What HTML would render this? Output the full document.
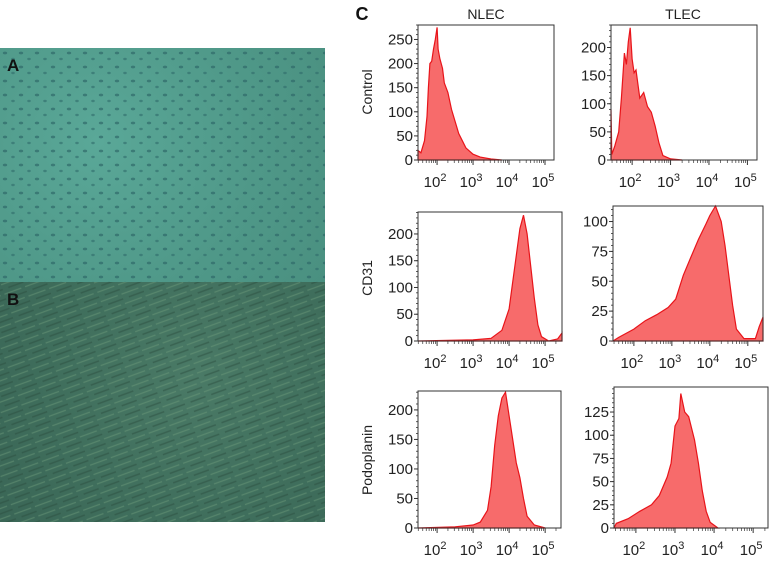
<!DOCTYPE html>
<html><head><meta charset="utf-8"><style>
body{margin:0;background:#fff;width:769px;height:567px;overflow:hidden;position:relative;font-family:"Liberation Sans",sans-serif}
.img{position:absolute;left:0;width:325px}
</style></head><body>
<div class="img" style="top:48px;height:234px;background:radial-gradient(circle at 30% 40%,#5aa898 0,#4f9888 60%,#4a9080 100%)">
<svg width="325" height="234" style="position:absolute;left:0;top:0">
<defs><pattern id="pa" width="16" height="14" patternUnits="userSpaceOnUse"><ellipse cx="5" cy="5" rx="2.2" ry="1.4" fill="#2f6a6a" opacity=".7"/><ellipse cx="13" cy="11" rx="1.8" ry="1.2" fill="#2f6a6a" opacity=".6"/></pattern></defs>
<rect width="325" height="234" fill="url(#pa)"/></svg>
<div style="position:absolute;left:7px;top:8px;font-weight:bold;font-size:17px;color:#111">A</div></div>
<div class="img" style="top:282px;height:240px;background:radial-gradient(circle at 60% 40%,#4a7a66 0,#3f6e5c 60%,#3a6656 100%)">
<svg width="325" height="240" style="position:absolute;left:0;top:0">
<defs><pattern id="pb" width="22" height="10" patternUnits="userSpaceOnUse" patternTransform="rotate(-20)"><line x1="0" y1="3" x2="18" y2="3" stroke="#6c9a7a" stroke-width="1.2" opacity=".5"/><line x1="6" y1="8" x2="22" y2="8" stroke="#2c4e40" stroke-width="1.5" opacity=".5"/></pattern></defs>
<rect width="325" height="240" fill="url(#pb)"/></svg>
<div style="position:absolute;left:7px;top:8px;font-weight:bold;font-size:17px;color:#111">B</div></div>
<svg id="c" width="769" height="567" style="position:absolute;left:0;top:0"></svg>
<script>
// data: [log10 intensity, count]
const nlecControl=[[1.47,20],[1.55,15],[1.65,40],[1.72,90],[1.76,150],[1.8,200],[1.85,205],[1.9,230],[1.95,250],[2.0,275],[2.03,230],[2.08,210],[2.15,190],[2.2,160],[2.3,140],[2.4,105],[2.5,80],[2.6,55],[2.7,40],[2.8,25],[3.0,12],[3.2,6],[3.5,2],[3.8,0]];
const tlecControl=[[1.45,90],[1.47,10],[1.55,25],[1.65,50],[1.72,110],[1.76,150],[1.8,190],[1.85,170],[1.9,210],[1.95,235],[2.0,180],[2.05,155],[2.1,160],[2.2,110],[2.3,120],[2.4,95],[2.5,85],[2.6,60],[2.7,30],[2.8,8],[3.0,2],[3.3,0]];
const nlecCD31=[[1.47,0],[3.0,2],[3.5,5],[3.8,20],[4.0,60],[4.1,110],[4.2,160],[4.3,210],[4.4,235],[4.5,200],[4.6,140],[4.7,80],[4.8,30],[4.9,8],[5.1,0],[5.35,4],[5.47,15]];
const tlecCD31=[[1.45,0],[1.6,3],[2,10],[2.3,17],[2.6,22],[2.9,28],[3.1,35],[3.3,55],[3.5,70],[3.7,85],[3.9,98],[4.0,105],[4.15,113],[4.3,100],[4.4,80],[4.5,55],[4.6,30],[4.7,10],[4.9,2],[5.2,2],[5.3,12],[5.4,20]];
const nlecPodo=[[1.47,0],[2.5,2],[3,5],[3.2,10],[3.4,30],[3.5,70],[3.6,140],[3.7,190],[3.8,220],[3.9,230],[4.0,190],[4.1,150],[4.2,110],[4.3,85],[4.4,50],[4.5,20],[4.7,5],[5.0,0]];
const tlecPodo=[[1.44,0],[1.5,5],[1.8,10],[2.1,18],[2.4,25],[2.6,35],[2.8,55],[2.9,70],[3.0,110],[3.1,118],[3.15,145],[3.25,125],[3.35,120],[3.5,95],[3.6,70],[3.7,40],[3.8,18],[3.9,6],[4.1,0]];
const ctrlTicksN=[0,50,100,150,200,250], ctrlTicksT=[0,50,100,150,200];
const cd31TicksN=[0,50,100,150,200], cd31TicksT=[0,25,50,75,100];
const podoTicksN=[0,50,100,150,200], podoTicksT=[0,25,50,75,100,125];
const decades=[2,3,4,5];
const NS='http://www.w3.org/2000/svg', svg=document.getElementById('c');
function el(t,a,p){const e=document.createElementNS(NS,t);for(const k in a)e.setAttribute(k,a[k]);(p||svg).appendChild(e);return e;}
function panel(name,x0,x1,lmin,lmax,y0,y1,ymax,data,yt){
  const g=el('g',{});
  
  
  const sx=l=>x0+(l-lmin)/(lmax-lmin)*(x1-x0), sy=v=>y1-v/ymax*(y1-y0);
  let d='M'+sx(data[0][0])+','+y1;
  data.forEach(p=>{d+=' L'+sx(p[0]).toFixed(1)+','+sy(p[1]).toFixed(1);});
  d+=' L'+sx(data[data.length-1][0])+','+y1+'Z';
  const h=el('path',{d:d,fill:'#f76b6b',stroke:'#e8141a','stroke-width':1.2},g);
  
  
  el('rect',{x:x0,y:y0,width:x1-x0,height:y1-y0,fill:'none',stroke:'#333','stroke-width':1},g);
  const step=yt[1]-yt[0];
  for(let v=0;v<=ymax;v+=step/5) el('line',{x1:x0-2,x2:x0,y1:sy(v),y2:sy(v),stroke:'#333','stroke-width':.8},g);
  yt.forEach(v=>{el('line',{x1:x0-4,x2:x0,y1:sy(v),y2:sy(v),stroke:'#333'},g);
    const t=el('text',{x:x0-5,y:sy(v)+5,'text-anchor':'end','font-size':15,fill:'#222'},g);t.textContent=v;
    });
  for(let dd=1;dd<=5;dd++)for(let m=1;m<10;m++){const l=dd+Math.log10(m);if(l<lmin||l>lmax)continue;
    el('line',{x1:sx(l),x2:sx(l),y1:y1,y2:y1+(m==1?5:3),stroke:'#333','stroke-width':m==1?1:.7},g);}
  decades.forEach(p=>{const t=el('text',{x:sx(p)-2,y:y1+27,'text-anchor':'middle','font-size':15,fill:'#222'},g);
    t.textContent='10';const s=el('tspan',{dy:-6,'font-size':11},t);s.textContent=p;
    });
}
panel('nlec-control',418,554,1.47,5.25,25,160,280,nlecControl,ctrlTicksN);
panel('tlec-control',611,757,1.45,5.25,25,160,240,tlecControl,ctrlTicksT);
panel('nlec-cd31',418,562,1.47,5.47,212,341,241,nlecCD31,cd31TicksN);
panel('tlec-cd31',613,763,1.45,5.4,206,341,113,tlecCD31,cd31TicksT);
panel('nlec-podoplanin',418,561,1.47,5.44,391,528,232,nlecPodo,podoTicksN);
panel('tlec-podoplanin',614,768,1.44,5.38,387,528,152,tlecPodo,podoTicksT);
function txt(s,x,y,a,name){const t=el('text',Object.assign({x:x,y:y,'font-size':14,fill:'#222','text-anchor':'middle'},a));t.textContent=s;
  }
txt('C',362,20,{'font-size':18,'font-weight':'bold','fill':'#111'},'label-c');
txt('NLEC',486,19,{},'column-title-nlec');
txt('TLEC',683,19,{},'column-title-tlec');
txt('Control',372,92,{transform:'rotate(-90 372 92)'},'row-label-control');
txt('CD31',372,278,{transform:'rotate(-90 372 278)'},'row-label-cd31');
txt('Podoplanin',372,460,{transform:'rotate(-90 372 460)'},'row-label-podoplanin');
</script>
</body></html>
